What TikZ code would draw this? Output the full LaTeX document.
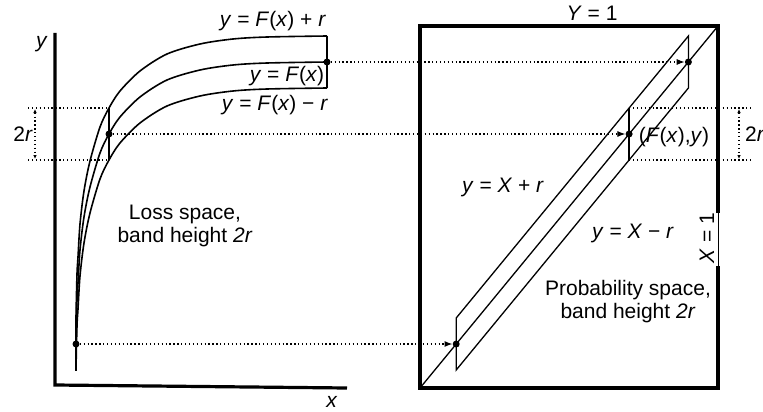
\documentclass[tikz,border=0pt]{standalone}
\usepackage{fontspec}
\setmainfont{Liberation Sans}
\usetikzlibrary{arrows.meta}
\newcommand\vi[1]{\textit{#1}}
\begin{document}
\begin{tikzpicture}[x=1pt,y=-1pt,
  axisline/.style={line width=3.2pt},
  curveline/.style={line width=1.6pt},
  bandline/.style={line width=1.3pt},
  dotline/.style={line width=1.1pt, dash pattern=on 1.3pt off 2.6pt},
  arr/.style={-{Latex[length=8pt,width=6pt]}},
  marr/.style={{Latex[length=4pt,width=3.5pt]}-{Latex[length=4pt,width=3.5pt]}},
  dotnode/.style={circle, fill, inner sep=0pt, minimum size=7pt},
  lbl/.style={font=\fontsize{21}{23}\selectfont, inner sep=0pt}]
\useasboundingbox (0,0) rectangle (763,412);

% left axes
\draw[axisline] (55,33) -- (55,385) -- (347,388);
\node[lbl] (ylab) at (42,44) {\vi{y}};
\node[lbl] (xlab) at (332,402) {\vi{x}};

% curves
\begin{scope}
\clip (60,20) rectangle (340,370);
\foreach \s in {26,0,-26}{
  \draw[curveline, yshift=\s pt] plot[smooth] coordinates {(76,372) (76,344) (77,300) (78,283) (80,250) (84,217) (90,187) (100,153) (109,134) (120,117) (140,97) (167,80) (200,70) (233,65) (267,63) (327,62)};
}
\end{scope}
\coordinate (rt) at (327,36);
\coordinate (rb) at (327,88);
\draw[curveline] (rt) -- (rb);
\coordinate (lt) at (109,108);
\coordinate (lb) at (109,160);
\draw[bandline] (lt) -- (lb);

% dots left
\node[dotnode] (a1) at (327,62) {};
\node[dotnode] (a2) at (109,134) {};
\node[dotnode] (a3) at (76,344) {};

% right box
\coordinate (BL) at (420,388);
\coordinate (TR) at (718,26);
\draw[axisline] (718,213) -- (TR) -- (420,26) -- (BL) -- (718,388) -- (718,266);
\draw[line width=0.9pt] (718,213) -- (718,266);
\draw[bandline] (BL) -- (TR);

% band
\coordinate (u1) at (456.2,318);
\coordinate (u2) at (629.1,108);
\coordinate (u3) at (688.4,36);
\coordinate (d1) at (456.2,370);
\coordinate (d2) at (629.1,160);
\coordinate (d3) at (688.4,88);
\draw[bandline] (u1) -- (u3) -- (d3) -- (d1) -- cycle;
\draw[bandline] (u2) -- (d2);

\node[dotnode] (b1) at (688.4,62) {};
\node[dotnode] (b2) at (629.1,134) {};
\node[dotnode] (b3) at (456.2,344) {};

% dotted connectors
\draw[dotline, arr] (a1) -- (b1);
\draw[dotline, arr] (a2) -- (b2);
\draw[dotline, arr] (a3) -- (b3);

% left 2r
\coordinate (lt0) at (28,108);
\coordinate (lb0) at (28,160);
\draw[dotline] (lt0) -- (lt);
\draw[dotline] (lb0) -- (lb);
\coordinate (lm1) at (35,109);
\coordinate (lm2) at (35,159);
\draw[dotline, marr] (lm1) -- (lm2);
\node[lbl, anchor=east] (tworl) at (33,134) {2\vi{r}};

% right 2r
\coordinate (rt0) at (752,108);
\coordinate (rb0) at (752,160);
\draw[dotline] (u2) -- (rt0);
\draw[dotline] (d2) -- (rb0);
\coordinate (rm1) at (739,109);
\coordinate (rm2) at (739,159);
\draw[dotline, marr] (rm1) -- (rm2);
\node[lbl, anchor=west] (tworr) at (745,134) {2\vi{r}};

% labels
\node[lbl] (l1) at (273,21) {\vi{y} = \vi{F}(\vi{x}) + \vi{r}};
\node[lbl] (l2) at (287,76) {\vi{y} = \vi{F}(\vi{x})};
\node[lbl] (l3) at (275,105) {\vi{y} = \vi{F}(\vi{x}) − \vi{r}};
\node[lbl, align=center] (loss) at (185,226) {Loss space,\\band height \vi{2r}};
\node[lbl] (Y1) at (592,13) {\vi{Y} = 1};
\node[lbl] (Fxy) at (674,137) {(\vi{F}(\vi{x}),\vi{y})};
\node[lbl] (up) at (503,187) {\vi{y} = \vi{X} + \vi{r}};
\node[lbl] (dn) at (633,233) {\vi{y} = \vi{X} − \vi{r}};
\node[lbl, align=center] (prob) at (628,302) {Probability space,\\band height \vi{2r}};
\node[lbl, rotate=90] (X1) at (707,238) {\vi{X} = 1};
\end{tikzpicture}
\end{document}
